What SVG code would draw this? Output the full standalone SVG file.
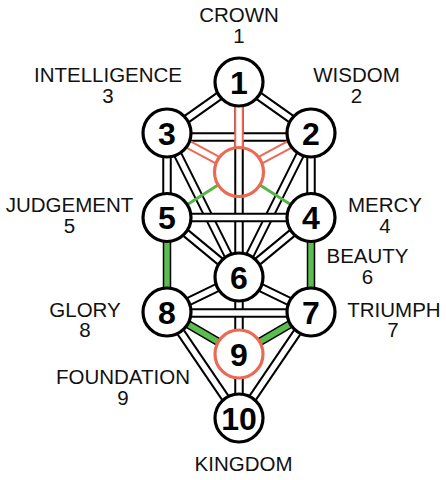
<svg xmlns="http://www.w3.org/2000/svg" width="446" height="480" viewBox="0 0 446 480">
<style>
.o{stroke:#000;stroke-width:9.5;fill:none}
.i{stroke:#fff;stroke-width:5.5;fill:none}
.ro{stroke:#ea6a54;stroke-width:9.5;fill:none}
.go{stroke:#000;stroke-width:8.5;fill:none}
.gi{stroke:#5bbd4f;stroke-width:5.5;fill:none}
.gs{stroke:#55b548;stroke-width:3;fill:none}
.node circle{fill:#fff;stroke:#000;stroke-width:3.2}
.node text{font-family:"Liberation Sans",Arial,sans-serif;font-weight:bold;font-size:32px;text-anchor:middle;fill:#000}
.lbl{font-family:"Liberation Sans",Arial,sans-serif;font-size:20.5px;text-anchor:middle;fill:#111}
</style>
<rect width="446" height="480" fill="#fff"/>
<g id="connectors">
  <line class="o" x1="239" y1="82" x2="239" y2="277"/><line class="i" x1="239" y1="82" x2="239" y2="277"/>
  <line class="o" x1="167" y1="137" x2="311" y2="137"/><line class="i" x1="167" y1="137" x2="311" y2="137"/>
  <line class="o" x1="239" y1="82" x2="167" y2="133"/><line class="i" x1="239" y1="82" x2="167" y2="133"/>
  <line class="o" x1="239" y1="82" x2="311" y2="133"/><line class="i" x1="239" y1="82" x2="311" y2="133"/>
  <line class="o" x1="167" y1="133" x2="167" y2="217.5"/><line class="i" x1="167" y1="133" x2="167" y2="217.5"/>
  <line class="o" x1="311" y1="133" x2="311" y2="217.5"/><line class="i" x1="311" y1="133" x2="311" y2="217.5"/>
  <line class="o" x1="167" y1="133" x2="239" y2="277"/><line class="i" x1="167" y1="133" x2="239" y2="277"/>
  <line class="o" x1="311" y1="133" x2="239" y2="277"/><line class="i" x1="311" y1="133" x2="239" y2="277"/>
  <line class="o" x1="167" y1="217.5" x2="311" y2="217.5"/><line class="i" x1="167" y1="217.5" x2="311" y2="217.5"/>
  <line class="o" x1="167" y1="217.5" x2="239" y2="277"/><line class="i" x1="167" y1="217.5" x2="239" y2="277"/>
  <line class="o" x1="311" y1="217.5" x2="239" y2="277"/><line class="i" x1="311" y1="217.5" x2="239" y2="277"/>
  <line class="o" x1="239" y1="277" x2="239" y2="354"/><line class="i" x1="239" y1="277" x2="239" y2="354"/>
  <line class="o" x1="167" y1="313" x2="311" y2="313"/><line class="i" x1="167" y1="313" x2="311" y2="313"/>
  <line class="o" x1="239" y1="277" x2="167" y2="312"/><line class="i" x1="239" y1="277" x2="167" y2="312"/>
  <line class="o" x1="239" y1="277" x2="311" y2="312"/><line class="i" x1="239" y1="277" x2="311" y2="312"/>
  <line class="o" x1="167" y1="312" x2="239" y2="418"/><line class="i" x1="167" y1="312" x2="239" y2="418"/>
  <line class="o" x1="311" y1="312" x2="239" y2="418"/><line class="i" x1="311" y1="312" x2="239" y2="418"/>
  <line class="o" x1="239" y1="354" x2="239" y2="418"/><line class="i" x1="239" y1="354" x2="239" y2="418"/>
  <line class="go" x1="167" y1="217.5" x2="167" y2="312"/><line class="gi" x1="167" y1="217.5" x2="167" y2="312"/>
  <line class="go" x1="311" y1="217.5" x2="311" y2="312"/><line class="gi" x1="311" y1="217.5" x2="311" y2="312"/>
  <line class="go" x1="167" y1="312" x2="239" y2="354"/><line class="gi" x1="167" y1="312" x2="239" y2="354"/>
  <line class="go" x1="311" y1="312" x2="239" y2="354"/><line class="gi" x1="311" y1="312" x2="239" y2="354"/>
  <line class="ro" x1="239" y1="82" x2="239" y2="147.5"/><line class="i" x1="239" y1="82" x2="239" y2="147.5"/>
  <line class="ro" x1="167" y1="133" x2="217.6" y2="160.1"/><line class="i" x1="167" y1="133" x2="217.6" y2="160.1"/>
  <line class="ro" x1="311" y1="133" x2="260.4" y2="160.1"/><line class="i" x1="311" y1="133" x2="260.4" y2="160.1"/>
  <line class="gs" x1="218.1" y1="184.9" x2="167" y2="217.5"/>
  <line class="gs" x1="259.9" y1="184.9" x2="311" y2="217.5"/>
</g>
<g id="daat"><circle cx="239" cy="172" r="24.5" fill="none" stroke="#ea6a54" stroke-width="3.2"/></g>
<g id="n1" class="node"><circle cx="239" cy="82" r="24"/><text x="239" y="93.5">1</text></g>
<g id="n2" class="node"><circle cx="311" cy="133" r="24"/><text x="311" y="144.5">2</text></g>
<g id="n3" class="node"><circle cx="167" cy="133" r="24"/><text x="167" y="144.5">3</text></g>
<g id="n4" class="node"><circle cx="311" cy="217.5" r="24"/><text x="311" y="229">4</text></g>
<g id="n5" class="node"><circle cx="167" cy="217.5" r="24"/><text x="167" y="229">5</text></g>
<g id="n6" class="node"><circle cx="239" cy="277" r="24"/><text x="239" y="288.5">6</text></g>
<g id="n7" class="node"><circle cx="311" cy="312" r="24"/><text x="311" y="323.5">7</text></g>
<g id="n8" class="node"><circle cx="167" cy="312" r="24"/><text x="167" y="323.5">8</text></g>
<g id="n9" class="node"><circle cx="239" cy="354" r="24" style="stroke:#ea6a54"/><text x="239" y="365.5">9</text></g>
<g id="n10" class="node"><circle cx="239" cy="418" r="24"/><text x="239" y="429.5">10</text></g>
<g id="labels">
  <text class="lbl" x="239" y="21.5">CROWN</text><text class="lbl" x="239" y="42.5">1</text>
  <text class="lbl" x="108" y="82">INTELLIGENCE</text><text class="lbl" x="108" y="102.5">3</text>
  <text class="lbl" x="356.5" y="82">WISDOM</text><text class="lbl" x="356.5" y="102.5">2</text>
  <text class="lbl" x="69.5" y="212">JUDGEMENT</text><text class="lbl" x="69.5" y="232.5">5</text>
  <text class="lbl" x="385" y="212">MERCY</text><text class="lbl" x="385" y="232.5">4</text>
  <text class="lbl" x="367.5" y="263">BEAUTY</text><text class="lbl" x="367.5" y="284">6</text>
  <text class="lbl" x="85" y="316.5">GLORY</text><text class="lbl" x="85" y="337">8</text>
  <text class="lbl" x="394" y="316.5">TRIUMPH</text><text class="lbl" x="393" y="337">7</text>
  <text class="lbl" x="123" y="384">FOUNDATION</text><text class="lbl" x="123" y="405">9</text>
  <text class="lbl" x="243.5" y="470.5">KINGDOM</text>
</g>
</svg>
